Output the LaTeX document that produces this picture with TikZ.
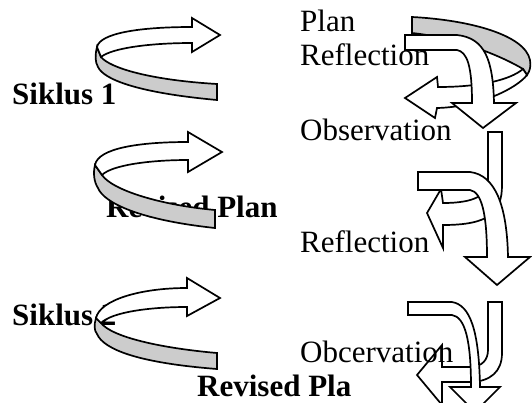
\documentclass[tikz,border=0pt]{standalone}
\usepackage{fontspec}
\setmainfont{Liberation Serif}
\usepackage{tikz}

\begin{document}
\begin{tikzpicture}[x=1pt,y=1pt,
  band/.style={draw=black,line width=1.7pt,fill=gray!40},
  ribbon/.style={draw=black,line width=1.7pt,fill=white},
  cycletext/.style={font=\fontsize{31}{36}\selectfont\bfseries,anchor=base west},
  phasetext/.style={font=\fontsize{31}{36}\selectfont,anchor=base west}]
\tikzstyle{every node}+=[inner sep=0pt]
\useasboundingbox (0,0) rectangle (532,-402);
\clip (0,0) rectangle (532,-402);
% left labels, partly hidden under the spirals
\node [cycletext] (siklus1) at (12,-104) {Siklus 1};
\node [cycletext] (revplan1) at (106,-217) {Revised Plan};
\node [cycletext] (siklus2) at (12,-325) {Siklus 2};
\node [cycletext] (revplan2) at (197,-396) {Revised Pla};
% left spirals
\draw [band] (97,-47) .. controls (95,-55) and (95,-62) .. (98,-67) .. controls (104,-80) and (140,-93) .. (217,-100) -- (217,-84) .. controls (150,-80) and (110,-68) .. (101,-57) -- cycle;
\draw [ribbon] (97,-47) .. controls (100,-33) and (140,-27) .. (192,-27) -- (192,-18) -- (220,-35) -- (192,-52) -- (192,-43) .. controls (150,-43) and (112,-48) .. (101,-57) -- cycle;
\draw [band] (95,-165) .. controls (93,-173) and (94,-182) .. (98,-188) .. controls (104,-203) and (140,-220) .. (215,-228) -- (215,-210) .. controls (160,-205) and (112,-190) .. (102,-175) -- cycle;
\draw [ribbon] (95,-165) .. controls (98,-148) and (140,-142) .. (188,-142) -- (188,-132) -- (222,-152) -- (188,-172) -- (188,-160) .. controls (150,-160) and (112,-165) .. (102,-175) -- cycle;
\draw [band] (96,-318) .. controls (94,-325) and (94,-330) .. (97,-334) .. controls (104,-350) and (140,-363) .. (217,-369) -- (217,-353) .. controls (160,-348) and (112,-337) .. (101,-323) -- cycle;
\draw [ribbon] (96,-318) .. controls (100,-300) and (140,-288) .. (187,-288) -- (187,-278) -- (220,-298) -- (187,-316) -- (187,-307) .. controls (150,-307) and (112,-312) .. (101,-323) -- cycle;
% right column, top
\draw [band] (412,-17) .. controls (470,-20) and (525,-35) .. (530,-60) .. controls (531,-66) and (530,-71) .. (527,-75) -- (523,-69) .. controls (505,-58) and (460,-38) .. (412,-33) -- cycle;
\draw [ribbon] (527,-75) .. controls (517,-88) and (480,-107) .. (437,-108) -- (435,-118) -- (405,-98) -- (437,-77) -- (438,-87) .. controls (480,-87) and (510,-80) .. (523,-69) -- cycle;
\draw [ribbon] (405,-35) -- (457,-35) .. controls (485,-38) and (493,-60) .. (494,-103) -- (516,-103) -- (483,-128) -- (452,-103) -- (472,-103) .. controls (472,-65) and (467,-52) .. (457,-50) -- (405,-50) -- cycle;
% right column, middle
\draw [ribbon] (488,-132) -- (502,-132) -- (502,-185) .. controls (502,-212) and (490,-225) .. (443,-225) -- (443,-248) -- (427,-213) -- (441,-189) -- (443,-203) .. controls (475,-203) and (488,-195) .. (488,-180) -- cycle;
\draw [ribbon] (418,-172) -- (470,-172) .. controls (495,-175) and (507,-205) .. (508,-257) -- (530,-257) -- (497,-285) -- (465,-257) -- (487,-257) .. controls (487,-215) and (482,-192) .. (470,-190) -- (418,-190) -- cycle;
% right column, bottom
\draw [ribbon] (488,-302) -- (502,-302) -- (502,-353) .. controls (502,-372) and (490,-381) .. (472,-382) -- (442,-382) -- (442,-405) -- (417,-375) -- (442,-345) -- (442,-367) -- (472,-367) .. controls (482,-366) and (488,-360) .. (488,-350) -- cycle;
\draw [ribbon] (408,-302) -- (452,-302) .. controls (470,-305) and (479,-330) .. (480,-387) -- (500,-387) -- (475,-412) -- (450,-387) -- (471,-387) .. controls (471,-340) and (465,-317) .. (452,-315) -- (408,-315) -- cycle;
% right labels
\node [phasetext] (plan) at (300,-31) {Plan};
\node [phasetext] (refl1) at (300,-65) {Reflection};
\node [phasetext] (obs) at (300,-140) {Observation};
\node [phasetext] (refl2) at (300,-252) {Reflection};
\node [phasetext] (obc) at (300,-362) {Obcervation};
\end{tikzpicture}
\end{document}
